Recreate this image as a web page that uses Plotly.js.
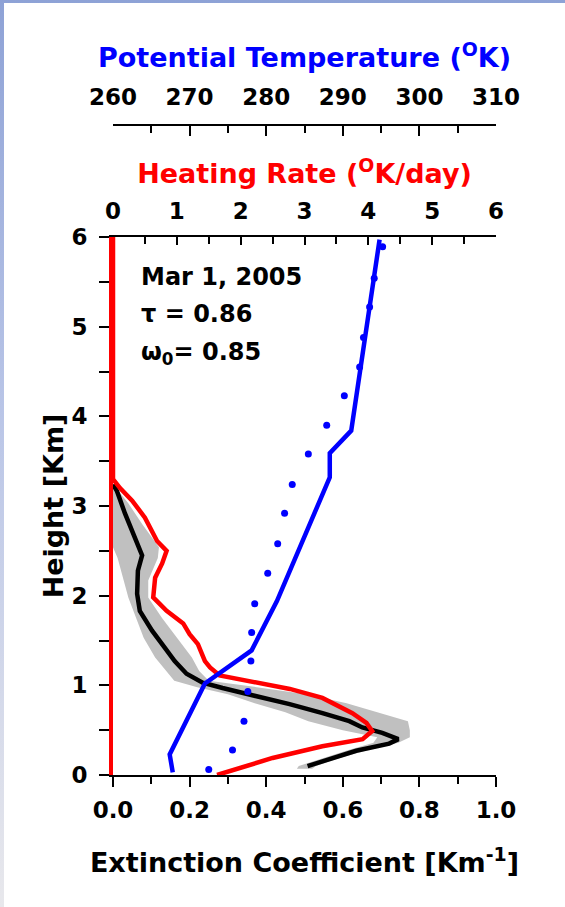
<!DOCTYPE html>
<html>
<head>
<meta charset="utf-8">
<script src="https://cdn.plot.ly/plotly-3.0.1.min.js"></script>
<style>
  html, body { margin: 0; padding: 0; width: 565px; height: 907px; overflow: hidden;
    background: linear-gradient(to bottom, #8ea2d6 0%, #b9c5e7 45%, #e8e8ec 100%); }
  #panel { position: absolute; left: 4px; top: 3px; width: 561px; height: 904px; background: #fff; }
  #chart { position: absolute; left: 0; top: 0; width: 565px; height: 907px; }
</style>
</head>
<body>
<div id="panel"></div>
<div id="chart"></div>
<script>
// Aerosol layer profile, Mar 1, 2005

// Mean extinction coefficient profile [1/km]
const extHeight = [3.24, 3.17, 2.92, 2.69, 2.45, 2.28, 2.02, 1.83, 1.61, 1.42, 1.27, 1.13, 1.03, 0.97, 0.88, 0.79, 0.69, 0.60, 0.53, 0.47, 0.40, 0.35, 0.27, 0.18, 0.10];
const extMean   = [0.000, 0.010, 0.031, 0.052, 0.076, 0.065, 0.063, 0.070, 0.102, 0.135, 0.161, 0.192, 0.234, 0.286, 0.375, 0.461, 0.547, 0.617, 0.651, 0.703, 0.745, 0.721, 0.635, 0.565, 0.508];

// Spread of the extinction retrievals (grey band)
const bandHeight = [3.24, 3.03, 2.80, 2.54, 2.42, 2.28, 2.17, 1.98, 1.75, 1.53, 1.31, 1.16, 1.05, 0.98, 0.90, 0.80, 0.70, 0.60, 0.50, 0.42, 0.36, 0.28, 0.18, 0.10, 0.07];
const extLow     = [0.000, 0.000, 0.000, 0.000, 0.012, 0.022, 0.028, 0.040, 0.060, 0.080, 0.110, 0.138, 0.160, 0.220, 0.300, 0.370, 0.450, 0.510, 0.600, 0.690, 0.680, 0.615, 0.540, 0.485, 0.480];
const extHigh    = [0.000, 0.040, 0.076, 0.120, 0.117, 0.102, 0.092, 0.092, 0.128, 0.167, 0.206, 0.225, 0.250, 0.375, 0.505, 0.610, 0.690, 0.770, 0.775, 0.775, 0.745, 0.665, 0.585, 0.530, 0.520];

// Aerosol heating rate [K/day]
const hrHeight    = [6.00, 3.30, 3.20, 3.06, 2.87, 2.61, 2.50, 2.36, 2.20, 1.98, 1.83, 1.69, 1.57, 1.46, 1.27, 1.20, 1.11, 1.03, 0.96, 0.86, 0.69, 0.58, 0.49, 0.40, 0.32, 0.19, 0.08, 0.00];
const heatingRate = [0.00, 0.00, 0.11, 0.30, 0.50, 0.69, 0.84, 0.77, 0.66, 0.63, 0.84, 1.10, 1.20, 1.33, 1.44, 1.52, 1.67, 2.25, 2.77, 3.28, 3.75, 3.97, 4.06, 3.91, 3.28, 2.50, 1.98, 1.63];

// Potential temperature profile [K]
const thetaHeight = [0.03, 0.23, 1.02, 1.39, 1.94, 3.32, 3.59, 3.84, 5.97];
const theta       = [267.8, 267.4, 272.0, 278.1, 281.4, 288.3, 288.3, 291.1, 294.8];

// Reference potential temperature profile (dotted) [K]
const refHeight = [0.06, 0.28, 0.60, 0.93, 1.27, 1.59, 1.91, 2.25, 2.58, 2.92, 3.24, 3.58, 3.90, 4.23, 4.55, 4.88, 5.22, 5.54, 5.89];
const refTheta  = [272.5, 275.6, 277.1, 277.6, 278.0, 278.1, 278.5, 280.2, 281.5, 282.4, 283.4, 285.5, 287.9, 290.2, 292.2, 292.7, 293.5, 294.1, 295.2];

// Axis tick values
const extTicks = [0.0, 0.2, 0.4, 0.6, 0.8, 1.0];
const hrTicks = [0, 1, 2, 3, 4, 5, 6];
const thetaTicks = [260, 270, 280, 290, 300, 310];
const heightTicks = [0, 1, 2, 3, 4, 5, 6];

const FONT = 'DejaVu Sans, Liberation Sans, Arial, sans-serif';

const traces = [
  { x: extLow, y: bandHeight, xaxis: 'x', yaxis: 'y', mode: 'lines',
    line: { width: 0, color: '#c0c0c0' }, hoverinfo: 'skip' },
  { x: extHigh, y: bandHeight, xaxis: 'x', yaxis: 'y', mode: 'lines',
    fill: 'tonextx', fillcolor: '#c0c0c0', line: { width: 0, color: '#c0c0c0' }, hoverinfo: 'skip' },
  { x: extMean, y: extHeight, xaxis: 'x', yaxis: 'y', mode: 'lines',
    line: { width: 4.5, color: '#000000' } },
  { x: heatingRate, y: hrHeight, xaxis: 'x2', yaxis: 'y', mode: 'lines',
    line: { width: 4.5, color: '#ff0000' } },
  { x: refTheta, y: refHeight, xaxis: 'x3', yaxis: 'y', mode: 'markers',
    marker: { size: 7, color: '#0000ff' } },
  { x: theta, y: thetaHeight, xaxis: 'x3', yaxis: 'y', mode: 'lines',
    line: { width: 4.5, color: '#0000ff' } }
];

const axisCommon = {
  showgrid: false, zeroline: false, showline: true, linecolor: '#000', linewidth: 2,
  tickcolor: '#000', tickwidth: 2, automargin: false,
  tickfont: { family: FONT, size: 23, weight: 'bold', color: '#000' }
};

const layout = {
  width: 565, height: 907,
  margin: { l: 113, r: 69, t: 125, b: 132, pad: 0 },
  paper_bgcolor: 'rgba(0,0,0,0)', plot_bgcolor: 'rgba(0,0,0,0)',
  showlegend: false,
  font: { family: FONT, size: 23, weight: 'bold', color: '#000' },
  xaxis: Object.assign({}, axisCommon, {
    anchor: 'y', side: 'bottom', range: [0, 1],
    tickmode: 'array', tickvals: extTicks, ticktext: extTicks.map(v => v.toFixed(1)),
    ticks: 'outside', ticklen: 10, ticklabelstandoff: 3,
    minor: { dtick: 0.1, tick0: 0, ticks: 'outside', ticklen: 7, tickwidth: 2, tickcolor: '#000' },
    title: { text: 'Extinction Coefficient [Km<sup>-1</sup>]', standoff: 32,
      font: { family: FONT, size: 27, weight: 'bold', color: '#000' } }
  }),
  yaxis: Object.assign({}, axisCommon, {
    anchor: 'x', domain: [0, 538 / 650], range: [0, 6],
    linecolor: '#ff0000', linewidth: 4,
    tickmode: 'array', tickvals: heightTicks,
    ticks: 'outside', ticklen: 10, ticklabelstandoff: 7,
    minor: { dtick: 0.5, tick0: 0, ticks: 'outside', ticklen: 10, tickwidth: 2, tickcolor: '#000' },
    title: { text: 'Height [Km]', standoff: 1,
      font: { family: FONT, size: 27, weight: 'bold', color: '#000' } }
  }),
  yaxis2: {
    overlaying: 'y', anchor: 'x', side: 'right', range: [0, 6],
    showline: true, linecolor: '#000', linewidth: 2, ticks: '', showticklabels: false,
    showgrid: false, zeroline: false, automargin: false
  },
  xaxis2: Object.assign({}, axisCommon, {
    overlaying: 'x', anchor: 'y', side: 'top', range: [0, 6],
    tickmode: 'array', tickvals: hrTicks,
    ticks: 'inside', ticklen: 8, ticklabelstandoff: 7,
    minor: { dtick: 0.5, tick0: 0, ticks: 'inside', ticklen: 7, tickwidth: 2, tickcolor: '#000' },
    title: { text: 'Heating Rate (<sup>O</sup>K/day)', standoff: 6,
      font: { family: FONT, size: 27, weight: 'bold', color: '#ff0000' } }
  }),
  xaxis3: Object.assign({}, axisCommon, {
    overlaying: 'x', anchor: 'free', position: 1, side: 'top', range: [260, 310],
    tickmode: 'array', tickvals: thetaTicks,
    ticks: 'inside', ticklen: 10, ticklabelstandoff: 10,
    minor: { dtick: 5, tick0: 260, ticks: 'inside', ticklen: 7, tickwidth: 2, tickcolor: '#000' },
    title: { text: 'Potential Temperature (<sup>O</sup>K)', standoff: 7,
      font: { family: FONT, size: 27, weight: 'bold', color: '#0000ff' } }
  }),
  annotations: [
    { text: 'Mar 1, 2005', xref: 'paper', yref: 'paper', x: 0.0731, y: 0.7882,
      xanchor: 'left', yanchor: 'top', showarrow: false, borderpad: 0, borderwidth: 0,
      font: { family: FONT, size: 24, weight: 'bold', color: '#000' } },
    { text: '\u03C4 = 0.86', xref: 'paper', yref: 'paper', x: 0.0731, y: 0.7312,
      xanchor: 'left', yanchor: 'top', showarrow: false, borderpad: 0, borderwidth: 0,
      font: { family: FONT, size: 24, weight: 'bold', color: '#000' } },
    { text: '\u03C9<sub>0</sub>= 0.85', xref: 'paper', yref: 'paper', x: 0.0731, y: 0.6728,
      xanchor: 'left', yanchor: 'top', showarrow: false, borderpad: 0, borderwidth: 0,
      font: { family: FONT, size: 24, weight: 'bold', color: '#000' } }
  ]
};

Plotly.newPlot('chart', traces, layout, { staticPlot: true, displayModeBar: false });
</script>
</body>
</html>
